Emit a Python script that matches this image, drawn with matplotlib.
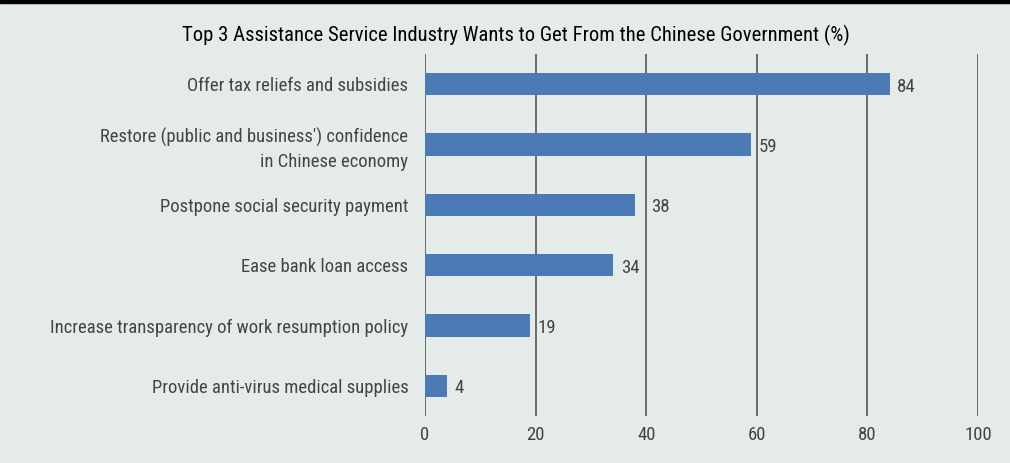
import matplotlib.pyplot as plt
from matplotlib.patches import Rectangle

# Data
categories = [
    "Offer tax reliefs and subsidies",
    "Restore (public and business') confidence\nin Chinese economy",
    "Postpone social security payment",
    "Ease bank loan access",
    "Increase transparency of work resumption policy",
    "Provide anti-virus medical supplies",
]
values = [84, 59, 38, 34, 19, 4]
xticks = [0, 20, 40, 60, 80, 100]

bg = "#e5ebe9"
bar_color = "#4c7ab4"
text_color = "#444444"

plt.rcParams['font.family'] = ['Roboto Condensed', 'Liberation Sans Narrow', 'Liberation Sans', 'DejaVu Sans']

fig = plt.figure(figsize=(10.10, 4.63), dpi=100, facecolor=bg)
ax = fig.add_axes([425 / 1010, 1 - 416 / 463, (978 - 425) / 1010, (416 - 54) / 463])
ax.set_facecolor(bg)

# black band along the top
fig.patches.append(Rectangle((0, 1 - 3 / 463), 1, 3 / 463, transform=fig.transFigure,
                             color="black", zorder=0))

y = list(range(len(categories)))
ax.barh(y, values, height=0.365, color=bar_color, zorder=3)
for yi, v in zip(y, values):
    x = v + 1.4
    # push the label past a gridline that would run through it
    for t in xticks:
        if x < t < x + 3:
            x = t + 0.9
    ax.text(x, yi + 0.04, str(v), va="center", ha="left", fontsize=13.5, color=text_color)

ax.set_xlim(0, 100)
ax.set_ylim(len(categories) - 0.5, -0.5)
ax.set_xticks(xticks)
ax.set_yticks(y)
ax.set_yticklabels(categories, fontsize=13.4, color=text_color, linespacing=1.45)
ax.tick_params(axis="x", length=0, pad=7, labelsize=13.5, labelcolor=text_color)
ax.tick_params(axis="y", length=0, pad=12)
ax.grid(axis="x", color="#555555", linewidth=1.2, zorder=0)
for s in ax.spines.values():
    s.set_visible(False)

fig.text(516 / 1010, 1 - 35 / 463, "Top 3 Assistance Service Industry Wants to Get From the Chinese Government (%)",
         ha="center", va="center", fontsize=14.9, color="black")

fig.savefig("out.png", dpi=100, facecolor=bg)
